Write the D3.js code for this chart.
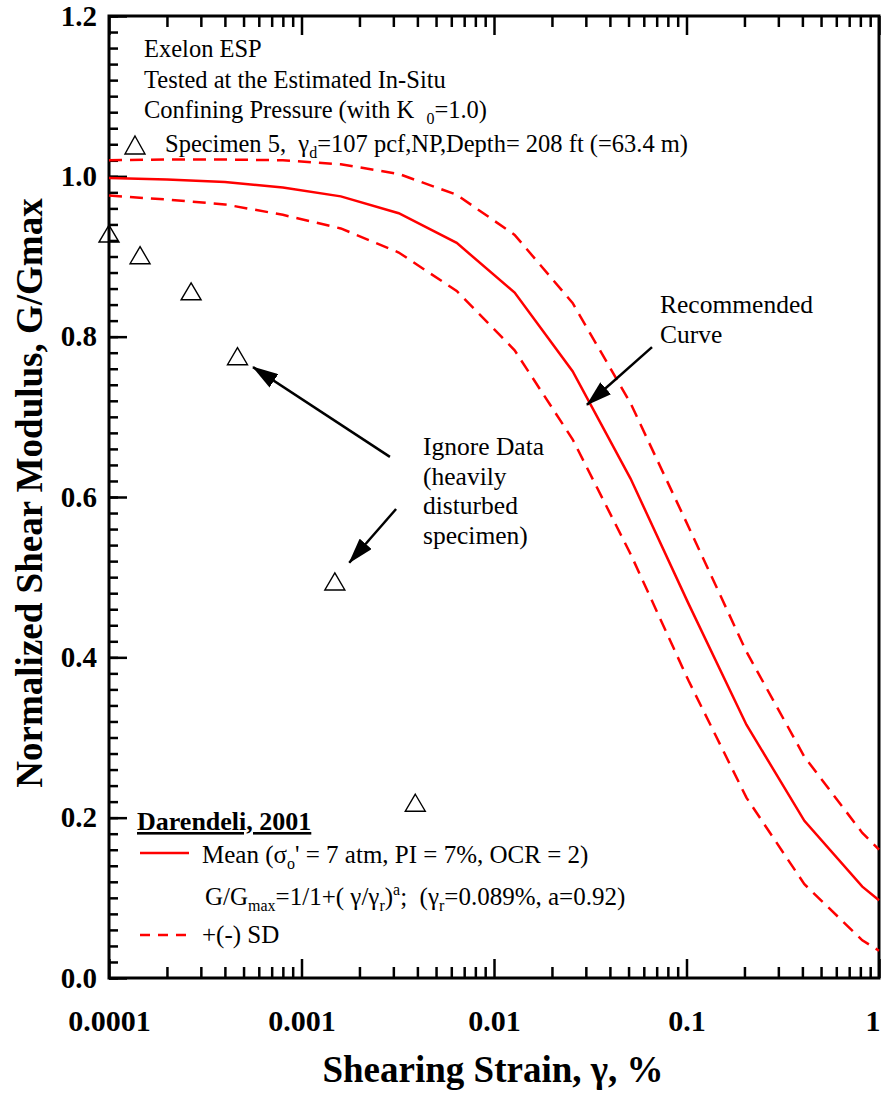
<!DOCTYPE html>
<html>
<head>
<meta charset="utf-8">
<script src="https://cdn.jsdelivr.net/npm/d3@7"></script>
<style>
  body { margin: 0; background: #fff; }
  text { font-family: "Liberation Serif", "Times New Roman", serif; fill: #000; white-space: pre; }
  .axis-label { font-weight: bold; }
  .gg-axis path.domain { display: none; }
  .gg-axis line { stroke: #000; stroke-width: 2.5; }
</style>
</head>
<body>
<div id="gg-plot-wrapper"></div>
<script>
// strain knots of the Darendeli (2001) curves, %
const strainKnots = [0.0001, 0.0002, 0.0004, 0.0008, 0.0016, 0.0032, 0.0064, 0.0128, 0.0256, 0.0512, 0.1024, 0.2048, 0.4096, 0.8192, 1.0];
const meanCurve = [0.998, 0.996, 0.993, 0.986, 0.975, 0.954, 0.917, 0.855, 0.757, 0.623, 0.467, 0.316, 0.196, 0.114, 0.097];
const upperSD = [1.020, 1.021, 1.021, 1.020, 1.015, 1.003, 0.977, 0.927, 0.842, 0.717, 0.563, 0.407, 0.276, 0.181, 0.160];
const lowerSD = [0.976, 0.971, 0.965, 0.952, 0.935, 0.905, 0.857, 0.783, 0.672, 0.529, 0.371, 0.225, 0.117, 0.047, 0.034];

// specimen 5 measurements
const specimenStrain = [0.0001, 0.000145, 0.000267, 0.000465, 0.00149, 0.0039];
const specimenRatio = [0.928, 0.901, 0.856, 0.775, 0.494, 0.218];

// tick labels
const xTickValues = [0.0001, 0.001, 0.01, 0.1, 1];
const xTickLabels = ["0.0001", "0.001", "0.01", "0.1", "1"];
const yTickValues = [0, 0.2, 0.4, 0.6, 0.8, 1.0, 1.2];
const yTickLabels = ["0.0", "0.2", "0.4", "0.6", "0.8", "1.0", "1.2"];

const config = {
    domId: "gg-plot-wrapper",
    width: 882,
    height: 1094,
    padding: {top: 16, right: 3, bottom: 116, left: 109},
    label: {x: "Shearing Strain, γ, %", y: "Normalized Shear Modulus, G/Gmax"},
    red: "#ff0000"
};

function updateConfig(config) {
    config.innerWidth = config.width - config.padding.left - config.padding.right;
    config.innerHeight = config.height - config.padding.top - config.padding.bottom;
}

// text with sub/superscripts: parts = [[text, kind]] where kind is undefined, "sub" or "sup"
function richText(parent, x, y, parts) {
    const t = parent.append("text").attr("x", x).attr("y", y);
    let level = 0;
    parts.forEach(([s, kind]) => {
        const target = kind === "sub" ? 6 : kind === "sup" ? -10 : 0;
        const span = t.append("tspan").attr("dy", target - level).text(s);
        if (kind) span.style("font-size", "16px");
        level = target;
    });
    return t;
}

function render() {
    updateConfig(config);

    const svg = d3.select(`#${config.domId}`).append("svg")
        .attr("width", config.width)
        .attr("height", config.height);

    // arrow head
    svg.append("defs").append("marker")
        .attr("id", "arrow-head")
        .attr("viewBox", "0 0 26 16")
        .attr("refX", 25).attr("refY", 8)
        .attr("markerUnits", "userSpaceOnUse")
        .attr("markerWidth", 26).attr("markerHeight", 16)
        .attr("orient", "auto")
        .append("path").attr("d", "M0,0 L26,8 L0,16 Z").attr("fill", "#000");

    const g = svg.append("g")
        .attr("transform", `translate(${config.padding.left},${config.padding.top})`);

    const scale = {
        x: d3.scaleLog().domain([0.0001, 1]).range([0, config.innerWidth]),
        y: d3.scaleLinear().domain([0, 1.2]).range([config.innerHeight, 0])
    };

    // minor/major ticks, all pointing inward
    const minorX = [];
    for (let dec = -4; dec < 0; dec++) {
        for (let m = 2; m <= 9; m++) minorX.push(m * Math.pow(10, dec));
    }
    const minorY = d3.range(0, 61).map(i => i * 0.02);

    g.append("g").attr("class", "gg-axis")
        .attr("transform", `translate(0,${config.innerHeight})`)
        .call(d3.axisBottom(scale.x).tickValues(minorX).tickSize(-11).tickFormat(""));
    const xLabels = g.append("g").attr("class", "gg-axis")
        .attr("transform", `translate(0,${config.innerHeight})`)
        .call(d3.axisBottom(scale.x).tickValues(xTickValues).tickSize(-19).tickPadding(32)
            .tickFormat((d, i) => xTickLabels[i]))
        .selectAll("text").attr("class", "axis-label").style("font-size", "30px");
    // keep the last label inside the picture
    xLabels.filter((d, i) => i === xTickValues.length - 1)
        .attr("text-anchor", "end").attr("dx", 1);

    g.append("g").attr("class", "gg-axis")
        .call(d3.axisTop(scale.x).tickValues(minorX).tickSize(-11).tickFormat(""));
    g.append("g").attr("class", "gg-axis")
        .call(d3.axisTop(scale.x).tickValues(xTickValues).tickSize(-19).tickFormat(""));

    g.append("g").attr("class", "gg-axis")
        .call(d3.axisLeft(scale.y).tickValues(minorY).tickSize(-9).tickFormat(""));
    g.append("g").attr("class", "gg-axis")
        .call(d3.axisLeft(scale.y).tickValues(yTickValues).tickSize(-18).tickPadding(12)
            .tickFormat((d, i) => yTickLabels[i]))
        .selectAll("text").attr("class", "axis-label").style("font-size", "29px");

    // frame
    g.append("rect")
        .attr("width", config.innerWidth).attr("height", config.innerHeight)
        .attr("fill", "none").attr("stroke", "#000").attr("stroke-width", 3);

    // curves
    const line = d3.line()
        .x(d => scale.x(d[0]))
        .y(d => scale.y(d[1]));
    const curves = [
        {values: upperSD, dash: "13,8"},
        {values: lowerSD, dash: "13,8"},
        {values: meanCurve, dash: null}
    ];
    g.selectAll(".gg-curve").data(curves).enter()
        .append("path")
        .attr("class", "gg-curve")
        .attr("d", d => line(strainKnots.map((s, i) => [s, d.values[i]])))
        .attr("fill", "none")
        .attr("stroke", config.red)
        .attr("stroke-width", 2.5)
        .attr("stroke-dasharray", d => d.dash);

    // specimen points (open triangles)
    const tri = "M0,-9 L10,8 L-10,8 Z";
    g.selectAll(".gg-point").data(specimenStrain).enter()
        .append("path")
        .attr("class", "gg-point")
        .attr("transform", (d, i) => `translate(${scale.x(d)},${scale.y(specimenRatio[i])})`)
        .attr("d", tri)
        .attr("fill", "none").attr("stroke", "#000").attr("stroke-width", 1.4);

    // annotation arrows, in data units
    const arrows = [
        {from: [0.00288, 0.650], to: [0.00056, 0.762]},
        {from: [0.0031, 0.585], to: [0.00177, 0.518]},
        {from: [0.0662, 0.787], to: [0.0304, 0.715]}
    ];
    g.selectAll(".gg-arrow").data(arrows).enter()
        .append("line")
        .attr("class", "gg-arrow")
        .attr("x1", d => scale.x(d.from[0])).attr("y1", d => scale.y(d.from[1]))
        .attr("x2", d => scale.x(d.to[0])).attr("y2", d => scale.y(d.to[1]))
        .attr("stroke", "#000").attr("stroke-width", 2.5)
        .attr("marker-end", "url(#arrow-head)");

    // axis titles
    svg.append("text")
        .attr("class", "axis-label")
        .attr("x", 493).attr("y", 1082)
        .attr("text-anchor", "middle")
        .style("font-size", "37px")
        .text(config.label.x);
    svg.append("text")
        .attr("class", "axis-label")
        .attr("transform", "translate(42,493) rotate(-90)")
        .attr("text-anchor", "middle")
        .style("font-size", "37px")
        .text(config.label.y);

    // header text block
    const header = svg.append("g").style("font-size", "24.5px");
    header.append("text").attr("x", 144).attr("y", 57).text("Exelon ESP");
    header.append("text").attr("x", 144).attr("y", 88).text("Tested at the Estimated In-Situ");
    richText(header, 144, 118, [["Confining Pressure (with K  "], ["0", "sub"], ["=1.0)"]]);
    header.append("path")
        .attr("transform", "translate(135,145)")
        .attr("d", "M0,-9 L10,9 L-10,9 Z")
        .attr("fill", "none").attr("stroke", "#000").attr("stroke-width", 1.4);
    richText(header, 165, 152, [["Specimen 5,  γ"], ["d", "sub"], ["=107 pcf,NP,Depth= 208 ft (=63.4 m)"]]);

    // annotations
    const note = svg.append("g").style("font-size", "25.5px");
    ["Ignore Data", "(heavily", "disturbed", "specimen)"].forEach((t, i) => {
        note.append("text").attr("x", 423).attr("y", 455 + i * 29.5).text(t);
    });
    ["Recommended", "Curve"].forEach((t, i) => {
        note.append("text").attr("x", 660).attr("y", 313 + i * 30).text(t);
    });

    // legend
    const legend = svg.append("g").style("font-size", "25px");
    legend.append("text").attr("x", 137).attr("y", 830)
        .style("font-weight", "bold").style("font-size", "26px")
        .style("text-decoration", "underline")
        .text("Darendeli, 2001");
    legend.append("line").attr("x1", 140).attr("x2", 189).attr("y1", 853).attr("y2", 853)
        .attr("stroke", config.red).attr("stroke-width", 2.5);
    richText(legend, 202, 863, [["Mean (σ"], ["o", "sub"], ["' = 7 atm, PI = 7%, OCR = 2)"]]);
    richText(legend, 205, 905, [
        ["G/G"], ["max", "sub"], ["=1/1+( γ/γ"], ["r", "sub"], [")"], ["a", "sup"],
        [";  (γ"], ["r", "sub"], ["=0.089%, a=0.92)"]
    ]);
    legend.append("line").attr("x1", 140).attr("x2", 189).attr("y1", 935).attr("y2", 935)
        .attr("stroke", config.red).attr("stroke-width", 2.5).attr("stroke-dasharray", "10,8");
    legend.append("text").attr("x", 202).attr("y", 943).text("+(-) SD");
}

render();
</script>
</body>
</html>
